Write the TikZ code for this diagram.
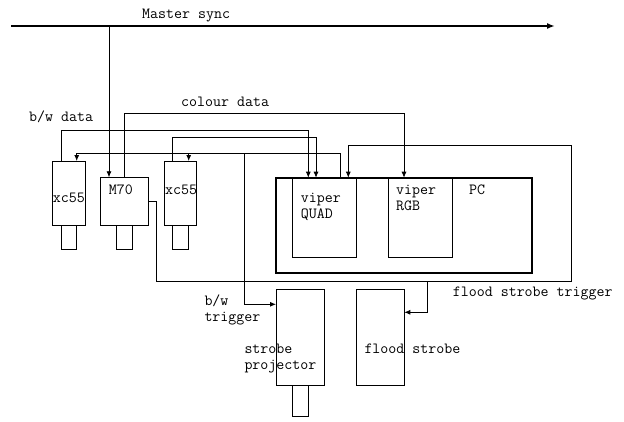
\documentclass[tikz,border=0pt]{standalone}
\usetikzlibrary{arrows.meta}
\begin{document}
\begin{tikzpicture}[x=1pt,y=-1pt,
  box/.style={draw,line width=0.8pt,inner sep=0pt,outer sep=0pt,anchor=north west},
  pcbox/.style={box,line width=2pt},
  wire/.style={line width=0.8pt},
  arr/.style={wire,-{Latex[length=6pt,width=5pt]}},
  lbl/.style={anchor=base west,inner sep=0pt,font=\ttfamily\fontsize{15.5}{16}\selectfont,align=left}]
\useasboundingbox (0,0) rectangle (624,421);
% boxes
\node[box,minimum width=32.7pt,minimum height=64.3pt] (xcl) at (52.3,161) {};
\node[box,minimum width=15.7pt,minimum height=24pt] (xcll) at (61,225.3) {};
\node[box,minimum width=48.4pt,minimum height=48pt] (m70) at (100.3,177.3) {};
\node[box,minimum width=16pt,minimum height=24pt] (m70l) at (116.3,225.3) {};
\node[box,minimum width=32pt,minimum height=64.3pt] (xcr) at (164.3,161) {};
\node[box,minimum width=16pt,minimum height=24pt] (xcrl) at (172.3,225.3) {};
\node[pcbox,minimum width=255.7pt,minimum height=95.6pt] (pc) at (276,177.7) {};
\node[box,minimum width=64pt,minimum height=79.3pt] (vq) at (292.3,177.7) {};
\node[box,minimum width=63.7pt,minimum height=79.3pt] (vr) at (388.3,177.7) {};
\node[box,minimum width=48pt,minimum height=96pt] (sp) at (276,289.3) {};
\node[box,minimum width=15.6pt,minimum height=31.4pt] (spl) at (292.7,385.3) {};
\node[box,minimum width=48.3pt,minimum height=96pt] (fs) at (356,289.3) {};
% labels (base = baseline of last line)
\node[lbl] (tms) at (142,18) {Master sync};
\node[lbl] (tcd) at (181,106) {colour data};
\node[lbl] (tbw) at (29,121.5) {b/w data};
\node[lbl] (txl) at (52.7,202) {xc55};
\node[lbl] (tm70) at (108.7,194.3) {M70};
\node[lbl] (txr) at (165,194) {xc55};
\node[lbl] (tvq) at (300.7,218) {viper\\QUAD};
\node[lbl] (tvr) at (396,210) {viper\\RGB};
\node[lbl] (tpc) at (469,194.3) {PC};
\node[lbl] (tbwt) at (204.3,321) {b/w\\trigger};
\node[lbl] (tsp) at (244.3,369.3) {strobe\\projector};
\node[lbl] (tfs) at (364.3,353.3) {flood strobe};
\node[lbl] (tfst) at (452.7,296) {flood strobe trigger};
% coordinates
\coordinate (ms1) at (11,26);
\coordinate (ms2) at (555,26);
\coordinate (msj) at (109,26);
\coordinate (cd1) at (124.7,113.3);
\coordinate (cd2) at (404,113.3);
\coordinate (bw1) at (61,130);
\coordinate (bw2) at (308.3,130);
\coordinate (bx1) at (172.7,137.7);
\coordinate (bx2) at (316,137.7);
\coordinate (sy1) at (340,153.3);
\coordinate (sy2) at (76.7,153.3);
\coordinate (syr) at (188.7,153.3);
\coordinate (trj) at (244,153.3);
\coordinate (tr1) at (244,304.3);
\coordinate (mo1) at (156.7,201);
\coordinate (mo2) at (156.7,281);
\coordinate (mo3) at (571.7,281);
\coordinate (mo4) at (571.7,145.7);
\coordinate (mo5) at (348.3,145.7);
\coordinate (fj) at (427.7,281);
\coordinate (fj2) at (427.7,312.3);
% connectors
\draw[line width=2pt,-{Latex[length=8pt,width=6pt]}] (ms1) -- (ms2);
\draw[arr] (msj) -- (msj |- m70.north);
\draw[arr] (cd1 |- m70.north) -- (cd1) -- (cd2) -- (cd2 |- vr.north);
\draw[arr] (bw1 |- xcl.north) -- (bw1) -- (bw2) -- (bw2 |- vq.north);
\draw[arr] (bx1 |- xcr.north) -- (bx1) -- (bx2) -- (bx2 |- vq.north);
\draw[arr] (sy1 |- vq.north) -- (sy1) -- (sy2) -- (sy2 |- xcl.north);
\draw[arr] (syr) -- (syr |- xcr.north);
\draw[arr] (trj) -- (tr1) -- (tr1 -| sp.west);
\draw[arr] (mo1 -| m70.east) -- (mo1) -- (mo2) -- (mo3) -- (mo4) -- (mo5) -- (mo5 |- pc.north);
\draw[arr] (fj) -- (fj2) -- (fj2 -| fs.east);
\end{tikzpicture}
\end{document}
